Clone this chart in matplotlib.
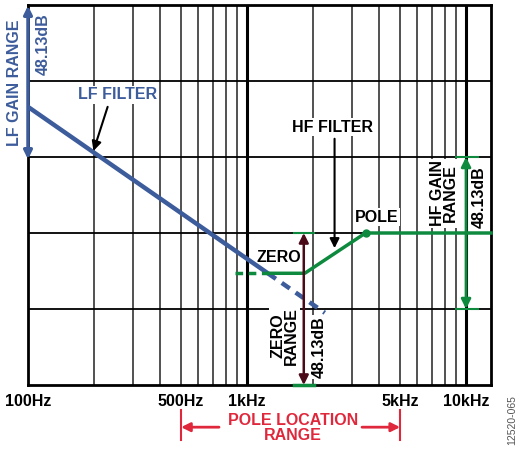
import matplotlib
matplotlib.use("Agg")
import matplotlib.pyplot as plt
import numpy as np

plt.rcParams['font.family'] = ['Liberation Sans', 'DejaVu Sans']
plt.rcParams['font.weight'] = 'bold'

# ---- data (gain in grid divisions; 2 divisions = 48.13 dB) ----
lf_freq = [100, 1245]
lf_gain = [3.66, 1.47]
lf_ext_freq = [1245, 2265]
lf_ext_gain = [1.47, 0.95]

hf_dash_freq = [882, 1245]
hf_dash_gain = [1.47, 1.47]
hf_freq = [1245, 1835, 3475, 13000]
hf_gain = [1.47, 1.47, 2.0, 2.0]
pole_freq = 3475
pole_gain = 2.0
zero_freq = 1835

tick_freqs = [100, 500, 1000, 5000, 10000]
tick_labels = ["100Hz", "500Hz", "1kHz", "5kHz", "10kHz"]
range_label = "48.13dB"

BLUE = "#3d5c9b"
GREEN = "#0d8a3e"
MAROON = "#4a0a18"
RED = "#e0283c"
FS = 11.5

fig = plt.figure(figsize=(5.19, 4.49), dpi=100)
ax = fig.add_axes([28/519, 1-385/449, 463/519, 380/449])
ax.set_xscale("log")
ax.set_xlim(100, 13000)
ax.set_ylim(0, 5)
ax.set_xticks([]); ax.set_yticks([])
ax.minorticks_off()
for s in ax.spines.values():
    s.set_linewidth(2.0)
    s.set_color("black")

# grid
for dec in [100, 1000]:
    for m in range(2, 10):
        ax.axvline(dec*m, color="#222222", lw=1.1, zorder=1)
for f in [1000, 10000]:
    ax.axvline(f, color="black", lw=2.2, zorder=1)
for yv in [1, 2, 3, 4]:
    ax.axhline(yv, color="black", lw=1.3, zorder=1)

bw = dict(facecolor="white", edgecolor="none", pad=1.0)

# LF filter
ax.plot(lf_freq, lf_gain, color=BLUE, lw=3.2, solid_capstyle="butt", zorder=4)
ax.plot(lf_ext_freq, lf_ext_gain, color=BLUE, lw=3.2, ls=(0, (2.2, 1.6)), zorder=4)

# HF filter
ax.plot(hf_dash_freq, hf_dash_gain, color=GREEN, lw=2.5, ls=(0, (2.2, 1.6)), zorder=5)
ax.plot(hf_freq, hf_gain, color=GREEN, lw=2.5, zorder=5, clip_on=False)
ax.plot([pole_freq], [pole_gain], "o", color=GREEN, ms=5, zorder=6)

# LF gain range arrow
ax.annotate("", xy=(100, 4.99), xytext=(100, 2.97),
            arrowprops=dict(arrowstyle="<|-|>", color=BLUE, lw=2.5,
                            mutation_scale=12, shrinkA=0, shrinkB=0), zorder=6,
            annotation_clip=False)
ax.text(86.5, 3.98, "LF GAIN RANGE", rotation=90, color=BLUE, fontsize=FS,
        ha="center", va="center", clip_on=False)
ax.text(117, 4.49, range_label, rotation=90, color=BLUE, fontsize=FS,
        ha="center", va="center", bbox=bw, zorder=3)
ax.text(256, 3.82, "LF FILTER", color=BLUE, fontsize=FS, ha="center", va="center",
        bbox=bw, zorder=3)
ax.annotate("", xy=(199, 3.08), xytext=(231, 3.66),
            arrowprops=dict(arrowstyle="-|>", color="black", lw=1.5,
                            mutation_scale=14, shrinkA=0, shrinkB=0), zorder=7)

# HF filter label + arrow
ax.text(2460, 3.39, "HF FILTER", color="black", fontsize=FS, ha="center", va="center",
        bbox=bw, zorder=3)
ax.annotate("", xy=(2510, 1.80), xytext=(2510, 3.24),
            arrowprops=dict(arrowstyle="-|>", color="black", lw=1.5,
                            mutation_scale=14, shrinkA=0, shrinkB=0), zorder=7)
ax.text(3900, 2.21, "POLE", color="black", fontsize=FS, ha="center", va="center",
        bbox=bw, zorder=3)
ax.text(1397, 1.68, "ZERO", color="black", fontsize=FS, ha="center", va="center",
        bbox=bw, zorder=3)

# Zero range
zx = 1816
ax.plot([zx*0.9, zx*1.11], [2.0, 2.0], color=GREEN, lw=1.5, zorder=6)
ax.plot([zx*0.9, zx*1.11], [0.0, 0.0], color=GREEN, lw=2.5, zorder=6, clip_on=False)
ax.annotate("", xy=(zx, 2.0), xytext=(zx, 0.0),
            arrowprops=dict(arrowstyle="<|-|>", color=MAROON, lw=1.8,
                            mutation_scale=14, shrinkA=0, shrinkB=0), zorder=6,
            annotation_clip=False)
ax.text(1489, 0.65, "ZERO\nRANGE", rotation=90, color="black", fontsize=FS,
        ha="center", va="center", linespacing=0.85, bbox=bw, zorder=3)
ax.text(2147, 0.5, range_label, rotation=90, color="black", fontsize=FS,
        ha="center", va="center", bbox=bw, zorder=3)

# HF gain range
hx = 10000
ax.plot([hx*0.9, hx*1.13], [3.0, 3.0], color=GREEN, lw=1.5, zorder=6)
ax.plot([hx*0.9, hx*1.13], [1.0, 1.0], color=GREEN, lw=1.5, zorder=6)
ax.annotate("", xy=(hx, 3.0), xytext=(hx, 1.0),
            arrowprops=dict(arrowstyle="<|-|>", color=GREEN, lw=2.0,
                            mutation_scale=14, shrinkA=0, shrinkB=0), zorder=6)
ax.text(7943, 2.52, "HF GAIN\nRANGE", rotation=90, color="black", fontsize=FS,
        ha="center", va="center", linespacing=0.85, bbox=bw, zorder=3)
ax.text(11460, 2.47, range_label, rotation=90, color="black", fontsize=FS,
        ha="center", va="center", bbox=bw, zorder=3)

# x tick labels
for f, lab in zip(tick_freqs, tick_labels):
    ax.text(f, -0.22, lab, color="black", fontsize=FS, ha="center", va="center",
            clip_on=False)

# pole location range
for f in [500, 5000]:
    ax.plot([f, f], [-0.33, -0.72], color=RED, lw=1.5, clip_on=False)
ax.annotate("", xy=(500, -0.555), xytext=(745, -0.555),
            arrowprops=dict(arrowstyle="-|>", color=RED, lw=2, mutation_scale=13,
                            shrinkA=0, shrinkB=0), annotation_clip=False)
ax.annotate("", xy=(5000, -0.555), xytext=(3350, -0.555),
            arrowprops=dict(arrowstyle="-|>", color=RED, lw=2, mutation_scale=13,
                            shrinkA=0, shrinkB=0), annotation_clip=False)
ax.text(1620, -0.565, "POLE LOCATION\nRANGE", color=RED, fontsize=FS, ha="center",
        va="center", linespacing=1.05, clip_on=False)

fig.text(512/519, 1-420/449, "12520-065", rotation=90, color="#555555", fontsize=7.5,
         fontweight="normal", ha="center", va="center")

fig.savefig("out.png", dpi=100)
